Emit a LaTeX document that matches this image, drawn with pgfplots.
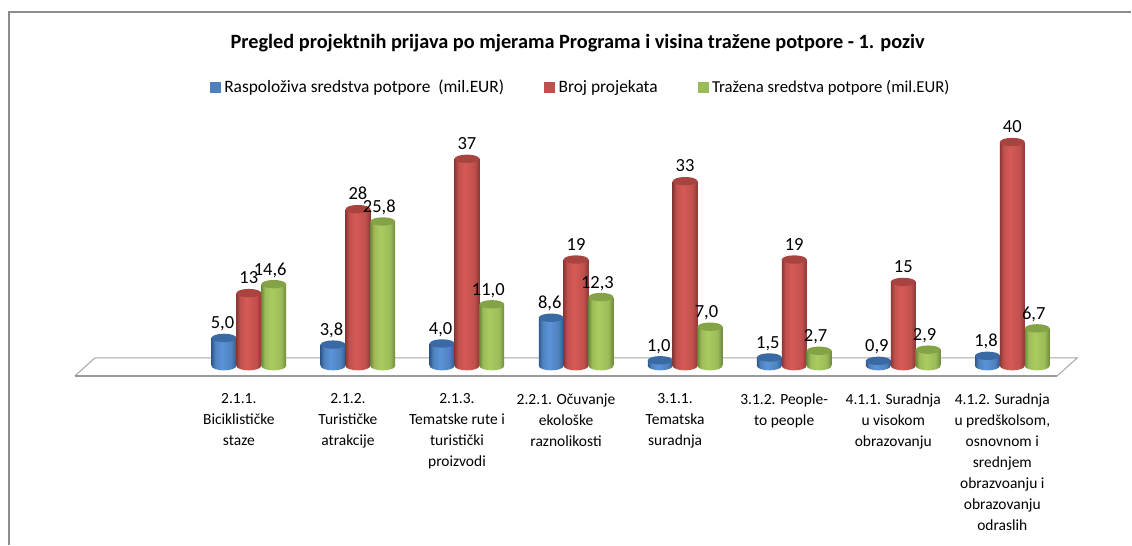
\documentclass[border=0pt]{standalone}
\usepackage{fontspec}
\setmainfont{Carlito}
\usepackage{pgfplots}
\usepackage{pgfplotstable}
\pgfplotsset{compat=1.18}

% cylinder shadings: dark rim, lit left of centre
\definecolor{bluedk}{HTML}{2F5A8E}
\definecolor{bluemd}{HTML}{4F81BD}
\definecolor{bluelt}{HTML}{5B93D8}
\definecolor{bluetop}{HTML}{3A6AA4}
\definecolor{reddk}{HTML}{8C3836}
\definecolor{redmd}{HTML}{C0504D}
\definecolor{redlt}{HTML}{D65A56}
\definecolor{redtop}{HTML}{A8433F}
\definecolor{greendk}{HTML}{6F8A3C}
\definecolor{greenmd}{HTML}{9BBB59}
\definecolor{greenlt}{HTML}{A9CC5F}
\definecolor{greentop}{HTML}{84A246}
\pgfdeclarehorizontalshading{cylblue}{100bp}{color(0bp)=(bluedk); color(25bp)=(bluedk); color(32bp)=(bluemd); color(45bp)=(bluelt); color(65bp)=(bluemd); color(75bp)=(bluedk); color(100bp)=(bluedk)}
\pgfdeclarehorizontalshading{cylred}{100bp}{color(0bp)=(reddk); color(25bp)=(reddk); color(32bp)=(redmd); color(45bp)=(redlt); color(65bp)=(redmd); color(75bp)=(reddk); color(100bp)=(reddk)}
\pgfdeclarehorizontalshading{cylgreen}{100bp}{color(0bp)=(greendk); color(25bp)=(greendk); color(32bp)=(greenmd); color(45bp)=(greenlt); color(65bp)=(greenmd); color(75bp)=(greendk); color(100bp)=(greendk)}

\newcommand\cylend[1]{\pgfpathellipse{\pgfpointorigin}{\pgfqpoint{12.4pt}{0pt}}{\pgfqpoint{0pt}{#1}}}
\pgfdeclareplotmark{botblue}{\cylend{4.5pt}\pgfshadepath{cylblue}{0}\pgfusepath{discard}}
\pgfdeclareplotmark{botred}{\cylend{4.5pt}\pgfshadepath{cylred}{0}\pgfusepath{discard}}
\pgfdeclareplotmark{botgreen}{\cylend{4.5pt}\pgfshadepath{cylgreen}{0}\pgfusepath{discard}}
\pgfdeclareplotmark{topblue}{\cylend{4.2pt}\pgfsetfillcolor{bluetop}\pgfusepathqfill}
\pgfdeclareplotmark{topred}{\cylend{4.2pt}\pgfsetfillcolor{redtop}\pgfusepathqfill}
\pgfdeclareplotmark{topgreen}{\cylend{4.2pt}\pgfsetfillcolor{greentop}\pgfusepathqfill}

\pgfplotstableread{
x blue red green
0 5.0 13 14.6
1 3.8 28 25.8
2 4.0 37 11.0
3 8.6 19 12.3
4 1.0 33 7.0
5 1.5 19 2.7
6 0.9 15 2.9
7 1.8 40 6.7
}\mjere

\tikzset{
  dec1/.style={/pgf/number format/.cd, assume math mode=true, use comma, fixed, fixed zerofill, precision=1},
  dec0/.style={/pgf/number format/.cd, assume math mode=true, fixed, precision=0},
}
\pgfplotsset{
  bar/.style={ybar, forget plot, bar width=24.8pt, bar shift=0pt, draw=none},
  bot/.style={only marks, forget plot, mark=#1},
  top/.style={only marks, forget plot, mark=#1, nodes near coords,
    every node near coord/.append style={font=\fontsize{18.5}{18.5}\selectfont, anchor=south, yshift=3pt, text=black}},
}

\begin{document}
\begin{tikzpicture}
\begin{axis}[
  scale only axis, width=1132pt, height=545pt,
  xmin=-2.2815, xmax=8.0905, ymin=-31.96, ymax=65.36,
  clip=false,
  axis line style={draw=none}, major tick length=0pt,
  ytick=\empty,
  xtick={0,...,7},
  xticklabels={
    {2.1.1.\\Biciklističke\\staze},
    {2.1.2.\\Turističke\\atrakcije},
    {2.1.3.\\Tematske rute i\\turistički\\proizvodi},
    {2.2.1. Očuvanje\\ekološke\\raznolikosti},
    {3.1.1.\\Tematska\\suradnja},
    {3.1.2. People-\\to people},
    {4.1.1. Suradnja\\u visokom\\obrazovanju},
    {4.1.2. Suradnja\\u predškolsom,\\osnovnom i\\srednjem\\obrazvoanju i\\obrazovanju\\odraslih}},
  xticklabel style={align=center, anchor=north, font=\fontsize{15.5}{21}\selectfont, xshift=-10pt, yshift=154.5pt},
  title={\bfseries Pregled projektnih prijava po mjerama Programa i visina tražene potpore - 1. poziv},
  title style={at={(0.5106,0.923)}, anchor=center, yshift=-7pt, font=\fontsize{20.3}{22}\selectfont},
  legend columns=3,
  legend style={at={(0.5133,0.8404)}, anchor=center, draw=none, fill=none,
    font=\fontsize{17.4}{19}\selectfont,
    /tikz/column 1/.style={column sep=2pt}, /tikz/column 3/.style={column sep=2pt}, /tikz/column 5/.style={column sep=2pt},
    /tikz/column 2/.style={column sep=38pt}, /tikz/column 4/.style={column sep=38pt}},
]
\draw[gray!90, line width=1.5pt] (rel axis cs:0.008,0) -- (rel axis cs:0.008,0.978) -- (rel axis cs:1,0.978);

\addlegendimage{legend image code/.code={\fill[bluemd] (0pt,-5pt) rectangle (10pt,5pt);}}
\addlegendentry{Raspoloživa sredstva potpore\ \ (mil.EUR)}
\addlegendimage{legend image code/.code={\fill[redmd] (0pt,-5pt) rectangle (10pt,5pt);}}
\addlegendentry{Broj projekata}
\addlegendimage{legend image code/.code={\fill[greenmd] (0pt,-5pt) rectangle (10pt,5pt);}}
\addlegendentry{\fontsize{16.7}{19}\selectfont Tražena sredstva potpore (mil.EUR)}

% floor
\addplot[forget plot, draw=gray!70, line width=1pt, fill=white] coordinates {(-1.594,-1.786) (-1.411,1.43) (7.596,1.43) (7.412,-1.786) (-1.594,-1.786)};
\addplot[forget plot, draw=gray!80, line width=1.6pt] coordinates {(-1.594,-1.786) (7.412,-1.786)};

% blue
\addplot[bot=botblue] table[x expr=\thisrow{x}-0.228, y expr=0] {\mjere};
\pgfplotsinvokeforeach{-0.4:0.4,0.6:1.4,1.6:2.4,2.6:3.4,3.6:4.4,4.6:5.4,5.6:6.4,6.6:7.4}{
  \addplot[bar, shade, shading=cylblue, restrict x to domain=#1] table[x expr=\thisrow{x}-0.228, y=blue] {\mjere};
}
\addplot[top=topblue, nodes near coords style={xshift=-1.5pt, dec1}] table[x expr=\thisrow{x}-0.228, y=blue] {\mjere};

% red
\addplot[bot=botred] table[x=x, y expr=0] {\mjere};
\pgfplotsinvokeforeach{-0.4:0.4,0.6:1.4,1.6:2.4,2.6:3.4,3.6:4.4,4.6:5.4,5.6:6.4,6.6:7.4}{
  \addplot[bar, shade, shading=cylred, restrict x to domain=#1] table[x=x, y=red] {\mjere};
}
\addplot[top=topred, nodes near coords style={yshift=3pt, dec0}] table[x=x, y=red] {\mjere};

% green
\addplot[bot=botgreen] table[x expr=\thisrow{x}+0.228, y expr=0] {\mjere};
\pgfplotsinvokeforeach{-0.4:0.4,0.6:1.4,1.6:2.4,2.6:3.4,3.6:4.4,4.6:5.4,5.6:6.4,6.6:7.4}{
  \addplot[bar, shade, shading=cylgreen, restrict x to domain=#1] table[x expr=\thisrow{x}+0.228, y=green] {\mjere};
}
\addplot[top=topgreen, nodes near coords style={xshift=-3.5pt, dec1}] table[x expr=\thisrow{x}+0.228, y=green] {\mjere};
\end{axis}
\end{tikzpicture}
\end{document}
